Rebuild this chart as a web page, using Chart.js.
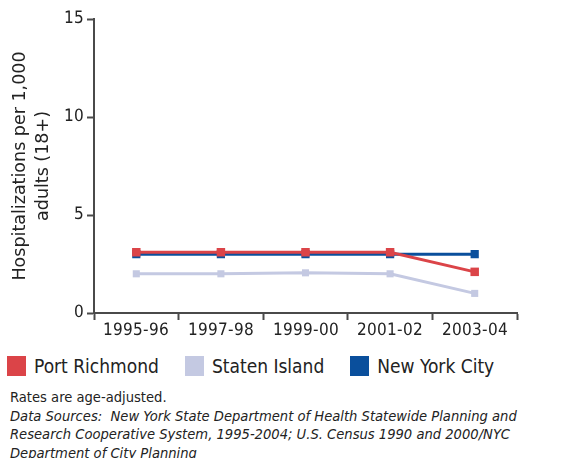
<!DOCTYPE html>
<html>
<head>
<meta charset="utf-8">
<script src="https://cdn.jsdelivr.net/npm/chart.js@4/dist/chart.umd.min.js"></script>
<style>
  body { margin: 0; background: #fff; font-family: 'DejaVu Sans', sans-serif; font-stretch: condensed; color: #222; }
  #wrap { position: relative; width: 574px; height: 345px; }
  #legend { position: absolute; top: 355px; left: 7px; display: flex; align-items: center; font-size: 19px; }
  #legend .item { display: flex; align-items: center; margin-right: 26px; }
  #legend .box { width: 19px; height: 20px; margin-right: 8px; }
  #notes { position: absolute; top: 388px; left: 10px; font-size: 14.6px; line-height: 18.7px; white-space: nowrap; }
</style>
</head>
<body>
<div id="wrap"><canvas id="mainChart"></canvas></div>
<div id="legend"></div>
<div id="notes">Rates are age-adjusted.<br><i>Data Sources:&nbsp; New York State Department of Health Statewide Planning and<br>Research Cooperative System, 1995-2004; U.S. Census 1990 and 2000/NYC<br>Department of City Planning</i></div>
<script>
const years = ['1995-96', '1997-98', '1999-00', '2001-02', '2003-04'];
const portRichmond = [3.1, 3.1, 3.1, 3.1, 2.1];
const statenIsland = [2.0, 2.0, 2.05, 2.0, 1.0];
const newYorkCity = [3.0, 3.0, 3.0, 3.0, 3.0];
const yTicks = [0, 5, 10, 15];

const fontFamily = "'DJCond', 'DejaVu Sans', sans-serif";
const titleFamily = "'DejaVu Sans', sans-serif";
const axisColor = '#4a4a4a';

const series = [
  { label: 'Port Richmond', data: portRichmond, color: '#db4448', size: 6 },
  { label: 'Staten Island', data: statenIsland, color: '#c4c9e2', size: 5 },
  { label: 'New York City', data: newYorkCity, color: '#0a4f9c', size: 5.8 }
];

const data = {
  labels: years,
  datasets: series.map(s => ({
    label: s.label,
    data: s.data,
    borderColor: s.color,
    backgroundColor: s.color,
    borderWidth: 3,
    pointStyle: 'rect',
    pointRadius: s.size,
    pointBorderWidth: 0,
    tension: 0
  }))
};

const config = {
  type: 'line',
  data: data,
  options: {
    responsive: true,
    maintainAspectRatio: false,
    animation: false,
    layout: {
      padding: { top: 19, right: 57, left: 0, bottom: 0 }
    },
    scales: {
      x: {
        offset: true,
        grid: {
          offset: true,
          drawOnChartArea: false,
          tickLength: 7,
          tickWidth: 2,
          tickColor: axisColor
        },
        border: { color: axisColor, width: 2 },
        ticks: {
          padding: 0,
          color: '#222',
          font: { family: fontFamily, size: 17 }
        },
        afterFit: scale => { scale.height = 32; }
      },
      y: {
        min: 0,
        max: 15,
        afterBuildTicks: scale => { scale.ticks = yTicks.map(v => ({ value: v })); },
        grid: {
          drawOnChartArea: false,
          tickLength: 7,
          tickWidth: 2,
          tickColor: axisColor
        },
        border: { color: axisColor, width: 2 },
        ticks: {
          padding: 3,
          color: '#222',
          font: { family: fontFamily, size: 17 }
        },
        title: {
          display: true,
          text: ['Hospitalizations per 1,000', 'adults (18+)'],
          color: '#222',
          font: { family: titleFamily, size: 17.5, lineHeight: 1.314 },
          padding: { top: 9, bottom: 0 }
        },
        afterFit: scale => { scale.width = 94; }
      }
    },
    plugins: {
      legend: { display: false },
      tooltip: { enabled: false }
    }
  }
};

//html legend
const legend = document.getElementById('legend');
series.forEach(s => {
  const item = document.createElement('div');
  item.className = 'item';
  item.innerHTML = '<span class="box" style="background:' + s.color + '"></span>' + s.label;
  legend.appendChild(item);
});

//condensed face for the canvas text
const face = new FontFace('DJCond', 'local("DejaVu Sans Condensed"), local("DejaVuSansCondensed")');
face.load()
  .then(f => { document.fonts.add(f); })
  .catch(() => {})
  .then(() => new Chart('mainChart', config));
</script>
</body>
</html>
